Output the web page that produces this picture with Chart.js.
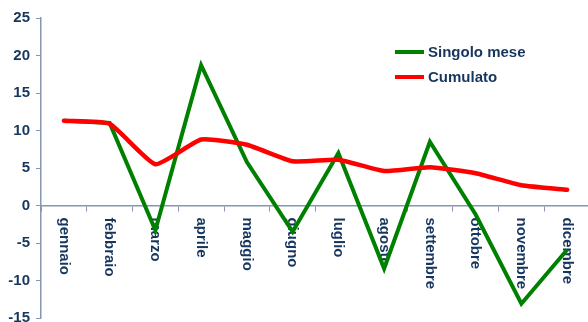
<!DOCTYPE html>
<html>
<head>
<meta charset="utf-8">
<script src="https://cdn.jsdelivr.net/npm/chart.js@4/dist/chart.umd.min.js"></script>
<style>
  html, body { margin: 0; padding: 0; background: #fff; }
  #wrap { width: 588px; height: 322px; overflow: hidden; position: relative; }
  #c { position: absolute; left: 0; top: 0; }
</style>
</head>
<body>
<div id="wrap"><canvas id="c" width="592" height="333"></canvas></div>
<script>
const categories = ['gennaio','febbraio','marzo','aprile','maggio','giugno','luglio','agosto','settembre','ottobre','novembre','dicembre'];
const singoloMese = [11.3, 11.0, -3.3, 18.7, 5.8, -3.5, 7.0, -8.4, 8.5, -1.2, -13.1, -5.9];
const cumulato = [11.3, 10.9, 5.5, 8.8, 8.1, 5.9, 6.1, 4.6, 5.1, 4.3, 2.7, 2.1];
const yTicks = [-15, -10, -5, 0, 5, 10, 15, 20, 25];

const NAVY = '#17365D';
const AXIS = '#8496B0';
const FONT = '"Liberation Sans", Arial, sans-serif';

const xLabelsPlugin = {
  id: 'xLabels',
  beforeDatasetsDraw(chart) {
    const ctx = chart.ctx;
    const xs = chart.scales.x, ys = chart.scales.y;
    const y0 = ys.getPixelForValue(0) + 12;
    ctx.save();
    ctx.fillStyle = NAVY;
    ctx.font = 'bold 15px ' + FONT;
    ctx.textAlign = 'left';
    ctx.textBaseline = 'middle';
    chart.data.labels.forEach((lab, i) => {
      const x = xs.getPixelForValue(i);
      ctx.save();
      ctx.translate(x, y0);
      ctx.rotate(Math.PI / 2);
      ctx.fillText(lab, 0, 0);
      ctx.restore();
    });
    ctx.restore();
  }
};

const legendPlugin = {
  id: 'customLegend',
  afterDraw(chart) {
    const ctx = chart.ctx;
    const items = [chart.data.datasets[1], chart.data.datasets[0]];
    ctx.save();
    ctx.font = 'bold 15px ' + FONT;
    ctx.textBaseline = 'middle';
    ctx.textAlign = 'left';
    items.forEach((ds, i) => {
      const y = 52 + i * 25;
      ctx.strokeStyle = ds.borderColor;
      ctx.lineWidth = 4;
      ctx.beginPath();
      ctx.moveTo(395, y);
      ctx.lineTo(424, y);
      ctx.stroke();
      ctx.fillStyle = NAVY;
      ctx.fillText(ds.label, 428, y + 1);
    });
    ctx.restore();
  }
};

new Chart(document.getElementById('c'), {
  type: 'line',
  data: {
    labels: categories,
    datasets: [
      {
        label: 'Cumulato',
        data: cumulato,
        borderColor: '#FF0000',
        borderWidth: 4.5,
        pointRadius: 0,
        tension: 0.15,
        fill: false,
        order: 0,
        borderJoinStyle: 'round',
        borderCapStyle: 'round'
      },
      {
        label: 'Singolo mese',
        data: singoloMese,
        borderColor: '#008000',
        borderWidth: 4,
        pointRadius: 0,
        tension: 0,
        fill: false,
        order: 1,
        borderJoinStyle: 'miter'
      }
    ]
  },
  options: {
    responsive: false,
    animation: false,
    devicePixelRatio: 1,
    layout: { padding: { top: 18, bottom: 6, left: 0, right: 2 } },
    plugins: { legend: { display: false }, tooltip: { enabled: false } },
    scales: {
      x: {
        type: 'category',
        position: { y: 0 },
        offset: true,
        grid: { display: true, drawOnChartArea: false, drawTicks: true, tickLength: 5, color: AXIS, offset: true },
        border: { display: true, color: AXIS, width: 1.5 },
        ticks: { display: false }
      },
      y: {
        min: -15,
        max: 25,
        afterBuildTicks(scale) { scale.ticks = yTicks.map(v => ({ value: v })); },
        afterFit(scale) { scale.width = 41; },
        grid: { display: true, drawOnChartArea: false, drawTicks: true, tickLength: 5, color: AXIS },
        border: { display: true, color: AXIS, width: 1.5 },
        ticks: {
          color: NAVY,
          font: { family: FONT, size: 15, weight: 'bold' },
          padding: 6
        }
      }
    }
  },
  plugins: [xLabelsPlugin, legendPlugin]
});
</script>
</body>
</html>
